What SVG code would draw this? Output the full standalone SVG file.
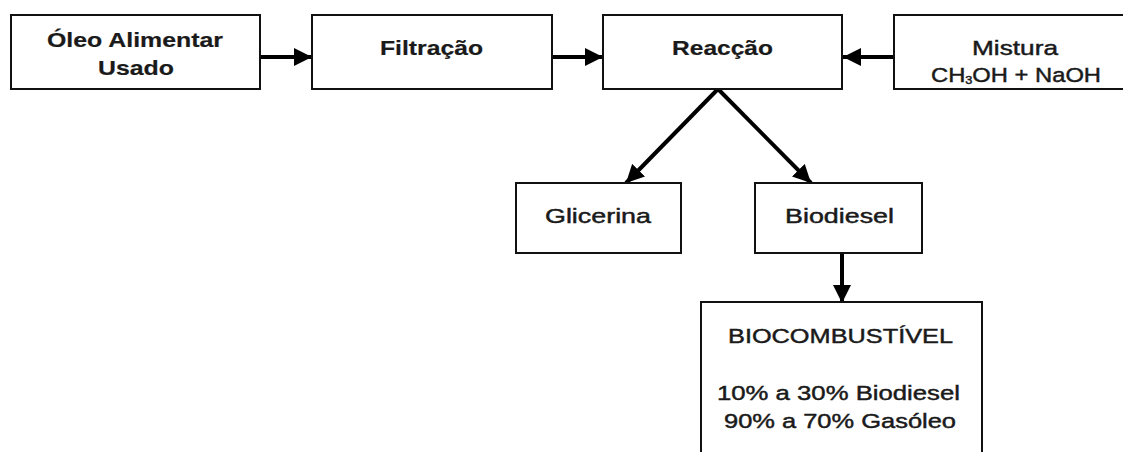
<svg xmlns="http://www.w3.org/2000/svg" width="1123" height="452" viewBox="0 0 1123 452">
  <style>
    .box { fill: #ffffff; stroke: #111111; stroke-width: 2; }
    .t { font-family: "Liberation Sans", Arial, sans-serif; font-size: 20.5px; fill: #1a1a1a; text-anchor: middle; stroke: #1a1a1a; stroke-width: 0.45; }
    .b { font-weight: bold; stroke-width: 0.2; }
    .link { stroke: #000000; stroke-width: 4; fill: none; }
  </style>
  <defs>
    <marker id="head" markerUnits="userSpaceOnUse" markerWidth="18" markerHeight="18" refX="18" refY="9" orient="auto">
      <path d="M0,0 L18,9 L0,18 Z" fill="#000000"/>
    </marker>
  </defs>
  <rect width="1123" height="452" fill="#ffffff"/>

  <g id="connectors">
    <line class="link" x1="260" y1="57" x2="312" y2="57" marker-end="url(#head)"/>
    <line class="link" x1="552" y1="57" x2="603" y2="57" marker-end="url(#head)"/>
    <line class="link" x1="894" y1="57" x2="843" y2="57" marker-end="url(#head)"/>
    <line class="link" x1="718" y1="89" x2="626" y2="183" marker-end="url(#head)"/>
    <line class="link" x1="718" y1="89" x2="811" y2="183" marker-end="url(#head)"/>
    <line class="link" x1="842" y1="253" x2="842" y2="303" marker-end="url(#head)"/>
  </g>

  <g id="oleo">
    <rect class="box" x="11" y="15" width="249" height="74"/>
    <text class="t b" x="135" y="47" textLength="176" lengthAdjust="spacingAndGlyphs">Óleo Alimentar</text>
    <text class="t b" x="136" y="75" textLength="76" lengthAdjust="spacingAndGlyphs">Usado</text>
  </g>

  <g id="filtracao">
    <rect class="box" x="312" y="15" width="240" height="74"/>
    <text class="t b" x="431.5" y="55" textLength="103" lengthAdjust="spacingAndGlyphs">Filtração</text>
  </g>

  <g id="reaccao">
    <rect class="box" x="603" y="15" width="239" height="74"/>
    <text class="t b" x="722.5" y="55" textLength="101" lengthAdjust="spacingAndGlyphs">Reacção</text>
  </g>

  <g id="mistura">
    <rect class="box" x="894" y="15" width="246" height="74"/>
    <text class="t" x="1015" y="55" textLength="86" lengthAdjust="spacingAndGlyphs">Mistura</text>
    <text class="t" x="1016" y="82" textLength="170" lengthAdjust="spacingAndGlyphs">CH<tspan font-size="11" dy="2">3</tspan><tspan dy="-2">OH + NaOH</tspan></text>
  </g>

  <g id="glicerina">
    <rect class="box" x="516" y="183" width="165" height="70"/>
    <text class="t" x="598" y="223" textLength="106" lengthAdjust="spacingAndGlyphs">Glicerina</text>
  </g>

  <g id="biodiesel">
    <rect class="box" x="755" y="183" width="167" height="70"/>
    <text class="t" x="839.5" y="223" textLength="109" lengthAdjust="spacingAndGlyphs">Biodiesel</text>
  </g>

  <g id="biocombustivel">
    <rect class="box" x="701" y="302" width="281" height="160"/>
    <text class="t" x="840.5" y="343" textLength="225" lengthAdjust="spacingAndGlyphs">BIOCOMBUSTÍVEL</text>
    <text class="t" x="838.5" y="400" textLength="243" lengthAdjust="spacingAndGlyphs">10% a 30% Biodiesel</text>
    <text class="t" x="840" y="428" textLength="232" lengthAdjust="spacingAndGlyphs">90% a 70% Gasóleo</text>
  </g>
</svg>
